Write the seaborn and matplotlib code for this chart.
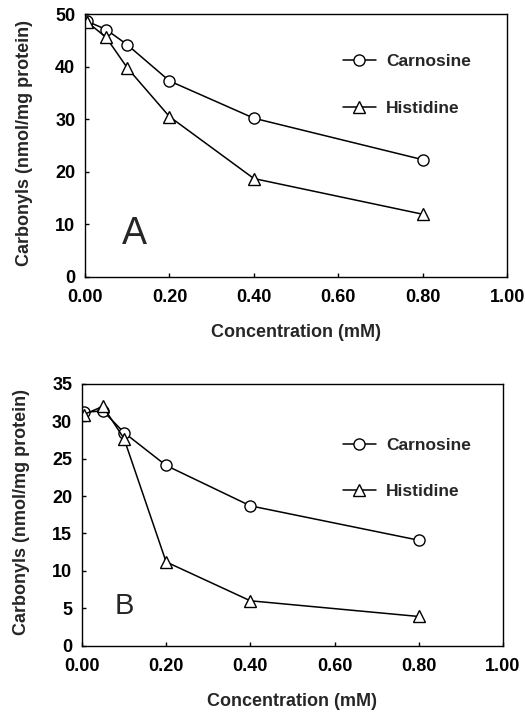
import matplotlib
matplotlib.use("Agg")
import matplotlib.pyplot as plt
import seaborn as sns
from matplotlib.lines import Line2D

# concentrations (mM)
conc = [0.004, 0.05, 0.10, 0.20, 0.40, 0.80]

# panel A
carnosine_a = [48.7, 47.1, 44.2, 37.3, 30.2, 22.3]
histidine_a = [48.6, 45.6, 39.8, 30.5, 18.7, 11.9]

# panel B
carnosine_b = [31.2, 31.4, 28.5, 24.1, 18.7, 14.1]
histidine_b = [30.9, 32.0, 27.7, 11.2, 6.0, 3.9]

x_ticks = [0.0, 0.2, 0.4, 0.6, 0.8, 1.0]
x_ticklabels = ["0.00", "0.20", "0.40", "0.60", "0.80", "1.00"]

sns.set_style("ticks", {"xtick.direction": "in", "ytick.direction": "in"})
plt.rcParams["font.family"] = ["Liberation Sans", "DejaVu Sans"]

fig = plt.figure(figsize=(5.25, 7.15), dpi=100)
ax_a = fig.add_axes([0.162, 0.613, 0.804, 0.367])
ax_b = fig.add_axes([0.156, 0.097, 0.802, 0.366])

panels = [
    (ax_a, carnosine_a, histidine_a, 50, 10, "A", (0.118, 0.163), 27, (0.59, 0.881), -0.123),
    (ax_b, carnosine_b, histidine_b, 35, 5, "B", (0.10, 0.153), 21, (0.599, 0.827), -0.124),
]

line_kw = dict(color="black", linewidth=1.1, markerfacecolor="white",
               markeredgecolor="black", markeredgewidth=1.0, markersize=8)

for ax, carn, hist, ymax, ystep, letter, lpos, lsize, legpos, ylx in panels:
    sns.lineplot(x=conc, y=carn, ax=ax, marker="o", **line_kw)
    sns.lineplot(x=conc, y=hist, ax=ax, marker="^", **line_kw)

    ax.set_xlim(0, 1.0)
    ax.set_ylim(0, ymax)
    ax.set_xticks(x_ticks)
    ax.set_xticklabels(x_ticklabels)
    ax.set_yticks(range(0, ymax + 1, ystep))
    ax.tick_params(axis="both", length=3, width=1, labelsize=13, colors="black")
    ax.tick_params(axis="x", pad=9)
    ax.tick_params(axis="y", pad=7)
    for lab in ax.get_xticklabels() + ax.get_yticklabels():
        lab.set_fontweight("bold")
    for sp in ax.spines.values():
        sp.set_visible(True)
        sp.set_linewidth(1.0)
        sp.set_color("black")

    ax.set_xlabel("Concentration (mM)", fontsize=13, fontweight="bold")
    ax.set_ylabel("Carbonyls (nmol/mg protein)", fontsize=13, fontweight="bold")
    ax.xaxis.set_label_coords(0.5, -0.18)
    ax.yaxis.set_label_coords(ylx, 0.51)

    ax.text(lpos[0], lpos[1], letter, transform=ax.transAxes, fontsize=lsize,
            ha="center", va="center")

    handles = [
        Line2D([], [], marker="o", **line_kw),
        Line2D([], [], marker="^", **line_kw),
    ]
    ax.legend(handles, ["Carnosine", "Histidine"], loc="upper left",
              bbox_to_anchor=legpos, frameon=False, borderpad=0,
              handlelength=1.9, handletextpad=0.6, labelspacing=1.8,
              prop={"size": 12.5, "weight": "bold"})

fig.savefig("out.png", dpi=100)
